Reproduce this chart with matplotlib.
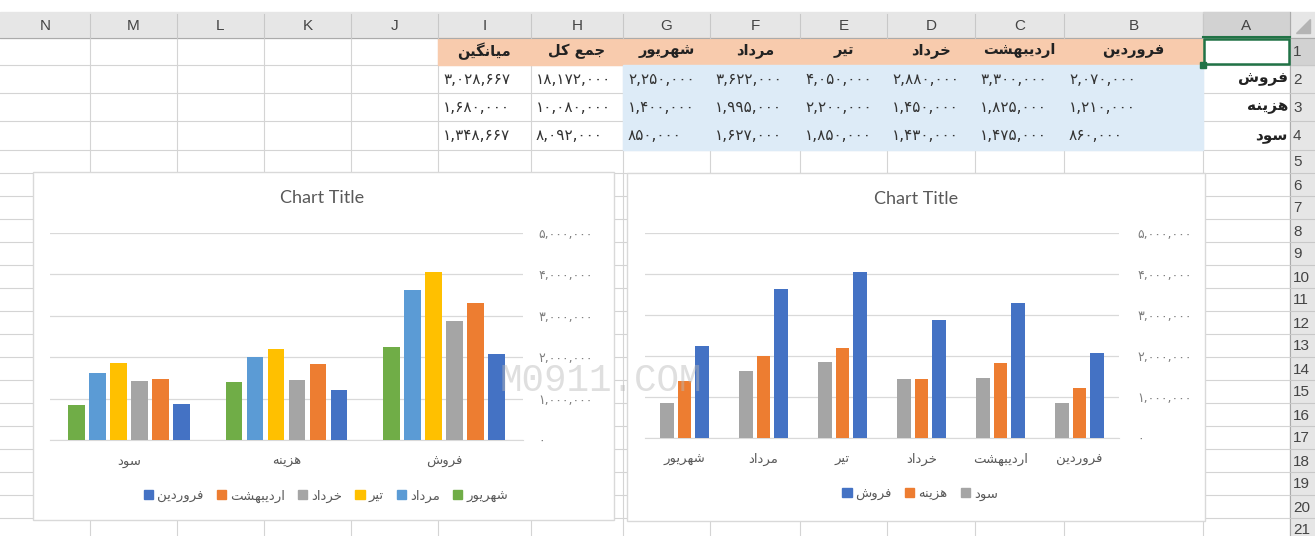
import numpy as np
import matplotlib.pyplot as plt
from matplotlib.patches import Rectangle, Polygon

W, H = 1315, 536

# data from the sheet
months = ['فروردین', 'اردیبهشت', 'خرداد', 'تیر', 'مرداد', 'شهریور']
row_names = ['فروش', 'هزینه', 'سود']
sales = [2070000, 3300000, 2880000, 4050000, 3622000, 2250000]
cost = [1210000, 1825000, 1450000, 2200000, 1995000, 1400000]
profit = [860000, 1475000, 1430000, 1850000, 1627000, 850000]
extra_headers = ['جمع کل', 'میانگین']
col_letters = ['N', 'M', 'L', 'K', 'J', 'I', 'H', 'G', 'F', 'E', 'D', 'C', 'B', 'A']
y_ticks = [0, 1000000, 2000000, 3000000, 4000000, 5000000]

month_colors = ['#4472C4', '#ED7D31', '#A5A5A5', '#FFC000', '#5B9BD5', '#70AD47']
row_colors = ['#4472C4', '#ED7D31', '#A5A5A5']

# --- simple persian shaping (no bidi lib available) ---
FORMS = {
    'ا': ('\uFE8D', '\uFE8E', None, None),
    'ب': ('\uFE8F', '\uFE90', '\uFE91', '\uFE92'),
    'ت': ('\uFE95', '\uFE96', '\uFE97', '\uFE98'),
    'ج': ('\uFE9D', '\uFE9E', '\uFE9F', '\uFEA0'),
    'خ': ('\uFEA5', '\uFEA6', '\uFEA7', '\uFEA8'),
    'د': ('\uFEA9', '\uFEAA', None, None),
    'ر': ('\uFEAD', '\uFEAE', None, None),
    'ز': ('\uFEAF', '\uFEB0', None, None),
    'س': ('\uFEB1', '\uFEB2', '\uFEB3', '\uFEB4'),
    'ش': ('\uFEB5', '\uFEB6', '\uFEB7', '\uFEB8'),
    'ع': ('\uFEC9', '\uFECA', '\uFECB', '\uFECC'),
    'ف': ('\uFED1', '\uFED2', '\uFED3', '\uFED4'),
    'ل': ('\uFEDD', '\uFEDE', '\uFEDF', '\uFEE0'),
    'م': ('\uFEE1', '\uFEE2', '\uFEE3', '\uFEE4'),
    'ن': ('\uFEE5', '\uFEE6', '\uFEE7', '\uFEE8'),
    'ه': ('\uFEE9', '\uFEEA', '\uFEEB', '\uFEEC'),
    'و': ('\uFEED', '\uFEEE', None, None),
    'ی': ('\uFBFC', '\uFBFD', '\uFBFE', '\uFBFF'),
    'ک': ('\uFB8E', '\uFB8F', '\uFB90', '\uFB91'),
    'گ': ('\uFB92', '\uFB93', '\uFB94', '\uFB95'),
}


def fa(word):
    out = []
    for i, c in enumerate(word):
        if c not in FORMS:
            out.append(c)
            continue
        prev = word[i - 1] if i > 0 else None
        nxt = word[i + 1] if i + 1 < len(word) else None
        jp = prev in FORMS and FORMS[prev][2] is not None
        jn = nxt in FORMS and FORMS[c][2] is not None
        iso, fin, ini, med = FORMS[c]
        if jp and jn:
            out.append(med)
        elif jp:
            out.append(fin)
        elif jn:
            out.append(ini)
        else:
            out.append(iso)
    return ''.join(reversed(out))


def fa_num(n):
    s = '{:,}'.format(int(round(n)))
    return s.translate(str.maketrans('0123456789', '۰۱۲۳۴۵۶۷۸۹'))


FA = ['DejaVu Sans']

fig = plt.figure(figsize=(W / 100, H / 100), dpi=100)
bg = fig.add_axes([0, 0, 1, 1])
bg.set_xlim(0, W)
bg.set_ylim(H, 0)
bg.axis('off')

col_x = [0, 90, 177, 264, 351, 438, 531, 623, 710, 800, 887, 975, 1064, 1203, 1290]
row_y = [38, 65, 93, 121, 150, 173] + [173 + 23 * k for k in range(1, 17)]
grid_c = '#D4D4D4'

# sheet gridlines
for x in col_x[1:]:
    bg.plot([x, x], [38, H], color=grid_c, lw=0.8, zorder=1)
for y in row_y:
    bg.plot([0, 1290], [y, y], color=grid_c, lw=0.8, zorder=1)

# header band + row number column
bg.add_patch(Rectangle((0, 12), W, 26, color='#E6E6E6', zorder=2))
bg.add_patch(Rectangle((1203, 12), 87, 26, color='#D2D2D2', zorder=2))
bg.add_patch(Rectangle((1290, 38), 25, H - 38, color='#E6E6E6', zorder=2))
bg.add_patch(Rectangle((1290, 38), 25, 27, color='#D2D2D2', zorder=2))
bg.plot([0, W], [38, 38], color='#ABABAB', lw=0.8, zorder=3)
bg.plot([1290, 1290], [12, H], color='#ABABAB', lw=0.8, zorder=3)
for x in col_x[1:-1]:
    bg.plot([x, x], [14, 38], color='#C8C8C8', lw=0.8, zorder=3)
for y in row_y[1:]:
    bg.plot([1290, W], [y, y], color='#C8C8C8', lw=0.8, zorder=3)
bg.plot([1203, 1290], [37, 37], color='#217346', lw=1.5, zorder=4)
bg.add_patch(Polygon([[1296, 33], [1310, 33], [1310, 19]], color='#B4B4B4', zorder=4))

for i, letter in enumerate(col_letters):
    bg.text((col_x[i] + col_x[i + 1]) / 2, 26, letter, ha='center', va='center',
            fontsize=11, color='#444444', family='Liberation Sans', zorder=5)
for r in range(21):
    bg.text(1293, (row_y[r] + row_y[r + 1]) / 2 + 1, str(r + 1), ha='left', va='center',
            fontsize=11, color='#444444', family='Liberation Sans', zorder=5)

# table fills
bg.add_patch(Rectangle((438, 38), 1203 - 438, 27, color='#F8CBAD', zorder=2))
bg.add_patch(Rectangle((623, 65), 1203 - 623, 150 - 65, color='#DDEBF7', zorder=2))
bg.add_patch(Rectangle((1204, 39), 85, 25, facecolor='white', edgecolor='#217346', lw=1.8, zorder=4))
bg.add_patch(Rectangle((1200, 62), 6, 6, color='#217346', zorder=5))

table = [sales, cost, profit]
for i, m in enumerate(months):
    c = 12 - i
    cx = (col_x[c] + col_x[c + 1]) / 2
    bg.text(cx, 51, fa(m), ha='center', va='center', fontsize=10.5, weight='bold',
            family=FA, color='#222222', zorder=5)
    for r in range(3):
        bg.text(col_x[c] + 5, (row_y[r + 1] + row_y[r + 2]) / 2, fa_num(table[r][i]),
                ha='left', va='center', fontsize=11, family=FA, color='#333333', zorder=5)
for k, hdr in enumerate(extra_headers):
    c = 6 - k
    cx = (col_x[c] + col_x[c + 1]) / 2
    bg.text(cx, 51, fa(hdr), ha='center', va='center', fontsize=10.5, weight='bold',
            family=FA, color='#222222', zorder=5)
    for r in range(3):
        v = sum(table[r]) if k == 0 else sum(table[r]) / len(table[r])
        bg.text(col_x[c] + 5, (row_y[r + 1] + row_y[r + 2]) / 2, fa_num(v),
                ha='left', va='center', fontsize=11, family=FA, color='#333333', zorder=5)
for r, name in enumerate(row_names):
    bg.text(1288, (row_y[r + 1] + row_y[r + 2]) / 2, fa(name), ha='right', va='center',
            fontsize=11, weight='bold', family=FA, color='#222222', zorder=5)

# chart boxes
bg.add_patch(Rectangle((33, 172), 614 - 33, 520 - 172, facecolor='white',
                       edgecolor='#D9D9D9', lw=1, zorder=6))
bg.add_patch(Rectangle((627, 173), 1205 - 627, 521 - 173, facecolor='white',
                       edgecolor='#D9D9D9', lw=1, zorder=6))
bg.text(322, 198, 'Chart Title', ha='center', va='center', fontsize=13,
        family='Lato', color='#595959', zorder=7)
bg.text(916, 199, 'Chart Title', ha='center', va='center', fontsize=13,
        family='Lato', color='#595959', zorder=7)


def style_axis(ax, pad):
    ax.set_facecolor('none')
    ax.set_ylim(0, 5000000)
    ax.set_yticks(y_ticks)
    ax.set_yticklabels([fa_num(v) for v in y_ticks], family=FA, fontsize=9, color='#7F7F7F')
    ax.yaxis.tick_right()
    ax.tick_params(axis='y', length=0, pad=pad)
    ax.tick_params(axis='x', length=0, pad=11, labelsize=9.5, labelcolor='#595959')
    ax.grid(axis='y', color='#D9D9D9', lw=0.9)
    ax.set_axisbelow(True)
    for s in ['top', 'left', 'right']:
        ax.spines[s].set_visible(False)
    ax.spines['bottom'].set_color('#D9D9D9')


# chart 1: groups = rows (RTL order), series = months
ax1 = fig.add_axes([50 / W, 1 - 440 / H, (523 - 50) / W, (440 - 233) / H])
cats1 = row_names[::-1]
w1 = 1 / 9.54
step1 = 1.27 * w1
x1 = np.arange(len(cats1))
order1 = list(range(len(months)))[::-1]
for j, i in enumerate(order1):
    vals = [profit[i], cost[i], sales[i]]
    ax1.bar(x1 + (j - 2.5) * step1, vals, width=w1, color=month_colors[i], zorder=3)
ax1.set_xlim(-0.5, 2.5)
ax1.set_xticks(x1)
ax1.set_xticklabels([fa(c) for c in cats1], family=FA)
style_axis(ax1, 11)

h1 = [Rectangle((0, 0), 1, 1, color=month_colors[i]) for i in range(len(months))]
fig.legend(h1, [fa(m) for m in months], loc='center', bbox_to_anchor=(326 / W, 1 - 496 / H),
           ncol=6, frameon=False, prop={'family': FA, 'size': 9.5}, labelcolor='#595959',
           handlelength=0.7, handleheight=0.7, handletextpad=0.3, columnspacing=1.0)

# chart 2: groups = months (RTL order), series = rows
ax2 = fig.add_axes([645 / W, 1 - 438 / H, (1119 - 645) / W, (438 - 233) / H])
cats2 = months[::-1]
w2 = 1 / 5.73
step2 = 1.27 * w2
x2 = np.arange(len(cats2))
series2 = [sales, cost, profit]
for j, r in enumerate([2, 1, 0]):
    vals = series2[r][::-1]
    ax2.bar(x2 + (j - 1) * step2, vals, width=w2, color=row_colors[r], zorder=3)
ax2.set_xlim(-0.5, 5.5)
ax2.set_xticks(x2)
ax2.set_xticklabels([fa(c) for c in cats2], family=FA)
style_axis(ax2, 13)

h2 = [Rectangle((0, 0), 1, 1, color=row_colors[r]) for r in range(3)]
fig.legend(h2, [fa(n) for n in row_names], loc='center', bbox_to_anchor=(920 / W, 1 - 494 / H),
           ncol=3, frameon=False, prop={'family': FA, 'size': 9.5}, labelcolor='#595959',
           handlelength=0.7, handleheight=0.7, handletextpad=0.3, columnspacing=1.0)

# site watermark over the charts
fig.text(601 / W, 1 - 381 / H, 'M0911.COM', ha='center', va='center', fontsize=27,
         family='Liberation Mono', color='#B8B8B8', alpha=0.45, zorder=10)

fig.savefig('out.png', dpi=100)
